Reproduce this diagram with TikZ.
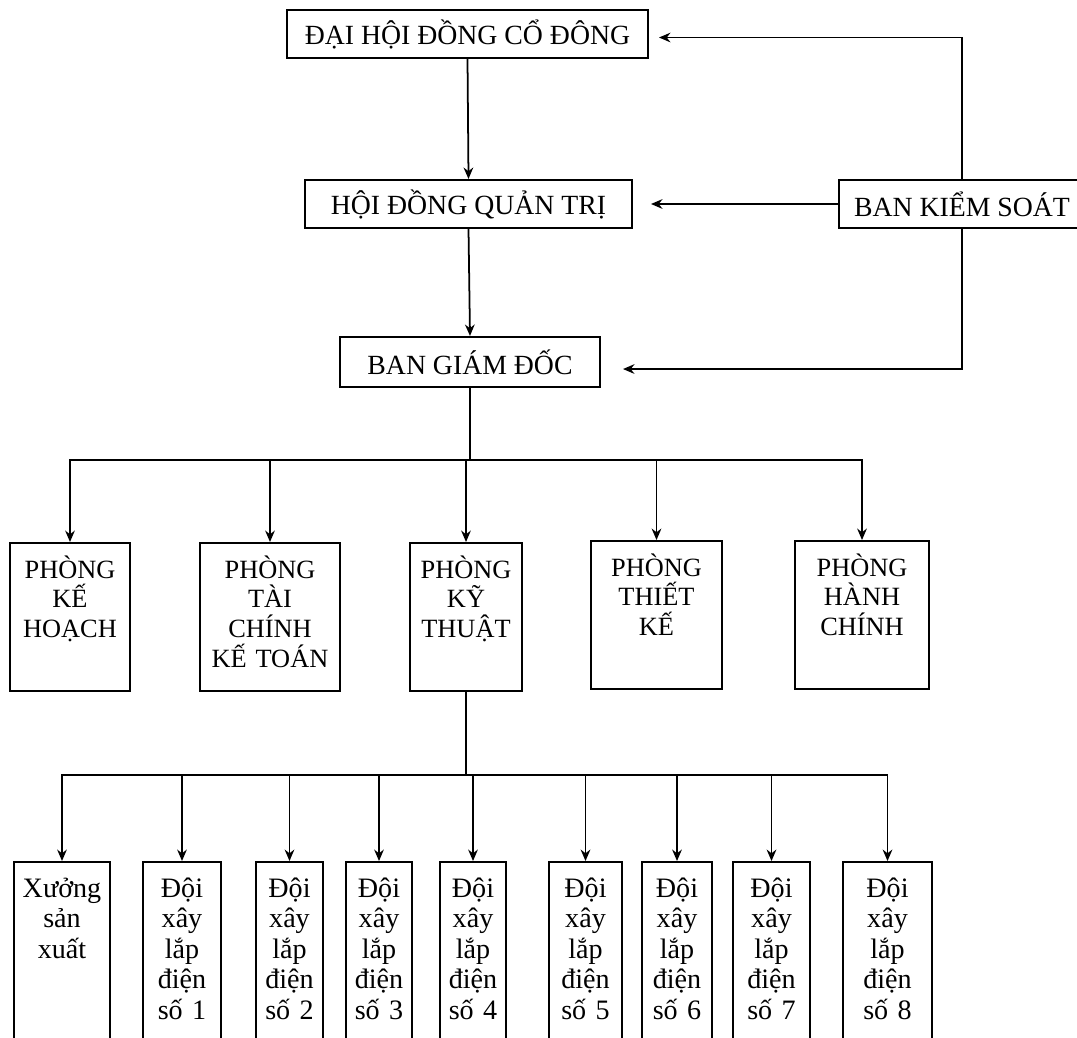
\documentclass[tikz,border=0pt]{standalone}
\usepackage{fontspec}
\setmainfont{Liberation Serif}
\usetikzlibrary{arrows.meta}
\begin{document}
\begin{tikzpicture}[x=0.02cm, y=-0.02cm, line width=1pt, >={Stealth[length=6.5pt,width=5.5pt]},
    every node/.style={draw, line width=1.2pt, inner sep=0pt},
    topbox/.style={minimum height=0.96cm, font=\fontsize{15.8}{18}\selectfont},
    deptbox/.style={anchor=north, align=center, inner ysep=0.3cm, text height=0.4cm, text depth=1.96cm, font=\fontsize{15}{17}\selectfont},
    teambox/.style={anchor=north, align=center, inner ysep=0.3cm, text height=0.4cm, text depth=3.6cm, font=\fontsize{16}{17.4}\selectfont}]
  \useasboundingbox (0,0) rectangle (1077,1037);
  \clip (0,0) rectangle (1077,1037);

  % Management
  \node[topbox, minimum width=7.22cm] (dhcd) at (467.5,34) {ĐẠI HỘI ĐỒNG CỔ ĐÔNG};
  \node[topbox, minimum width=6.54cm] (hdqt) at (468.5,204) {HỘI ĐỒNG QUẢN TRỊ};
  \node[topbox, minimum width=4.92cm] (bks) at (962,204) {BAN KIỂM SOÁT};
  \node[topbox, minimum width=5.2cm, minimum height=1cm] (bgd) at (470,362) {BAN GIÁM ĐỐC};

  % Departments
  \node[deptbox, text width=2.4cm] (pkh) at (70,542) {PHÒNG\\KẾ\\HOẠCH};
  \node[deptbox, text width=2.8cm] (ptc) at (270,542) {PHÒNG\\TÀI\\CHÍNH\\KẾ TOÁN};
  \node[deptbox, text width=2.24cm] (pkt) at (466,542) {PHÒNG\\KỸ\\THUẬT};
  \node[deptbox, text width=2.62cm] (ptk) at (656.5,540) {PHÒNG\\THIẾT\\KẾ};
  \node[deptbox, text width=2.68cm] (phc) at (862,540) {PHÒNG\\HÀNH\\CHÍNH};

  % Workshop and construction teams
  \node[teambox, text width=1.92cm] (xsx) at (62,861) {Xưởng\\sản\\xuất};
  \node[teambox, text width=1.56cm] (d1) at (182,861) {Đội\\xây\\lắp\\điện\\số 1};
  \node[teambox, text width=1.34cm] (d2) at (289.5,861) {Đội\\xây\\lắp\\điện\\số 2};
  \node[teambox, text width=1.32cm] (d3) at (379,861) {Đội\\xây\\lắp\\điện\\số 3};
  \node[teambox, text width=1.32cm] (d4) at (473,861) {Đội\\xây\\lắp\\điện\\số 4};
  \node[teambox, text width=1.46cm] (d5) at (585.5,861) {Đội\\xây\\lắp\\điện\\số 5};
  \node[teambox, text width=1.4cm] (d6) at (677,861) {Đội\\xây\\lắp\\điện\\số 6};
  \node[teambox, text width=1.54cm] (d7) at (771.5,861) {Đội\\xây\\lắp\\điện\\số 7};
  \node[teambox, text width=1.78cm] (d8) at (887.5,861) {Đội\\xây\\lắp\\điện\\số 8};

  % Split points
  \coordinate (split1) at (470,460);
  \coordinate (split2) at (466,775);

  % Edges of the main line
  \draw[->] (dhcd.south) -- (hdqt.north);
  \draw[->] (hdqt.south) -- (bgd.north);

  % Edges from the supervisory board
  \draw[->, shorten >=0.2cm] (bks.north) |- ([yshift=-2pt]dhcd.east);
  \draw[->, shorten >=0.36cm] (bks.west) -- (hdqt.east);
  \draw[->, shorten >=0.44cm] (bks.south) |- ([yshift=-4pt]bgd.east);

  % Edges to the departments
  \draw (bgd.south) -- (split1);
  \draw[->] (split1) -| (pkh.north);
  \draw[->] (split1) -| (ptc.north);
  \draw[->] (split1) -| (pkt.north);
  \draw[->] (split1) -| (ptk.north);
  \draw[->] (split1) -| (phc.north);

  % Edges to the teams
  \draw (pkt.south) -- (split2);
  \draw[->] (split2) -| (xsx.north);
  \draw[->] (split2) -| (d1.north);
  \draw[->] (split2) -| (d2.north);
  \draw[->] (split2) -| (d3.north);
  \draw[->] (split2) -| (d4.north);
  \draw[->] (split2) -| (d5.north);
  \draw[->] (split2) -| (d6.north);
  \draw[->] (split2) -| (d7.north);
  \draw[->] (split2) -| (d8.north);
\end{tikzpicture}
\end{document}
